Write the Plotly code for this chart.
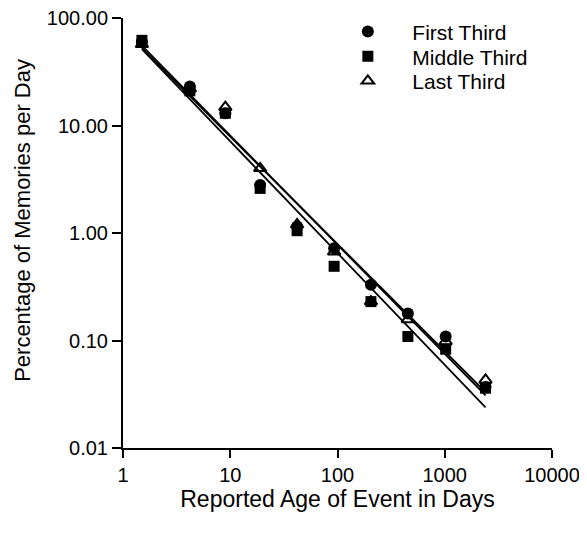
import numpy as np
import plotly.graph_objects as go

# Data (log-log)
age_days = [1.5, 4.2, 9.0, 19, 42, 93, 205, 453, 1020, 2400]
first_third = [60, 23, 13, 2.8, 1.15, 0.72, 0.33, 0.178, 0.109, 0.037]
middle_third = [62, 21, 13, 2.6, 1.05, 0.49, 0.23, 0.109, 0.083, 0.036]
last_third = [57, 22, 14.8, 4.0, 1.2, 0.67, 0.23, 0.157, 0.098, 0.043]

x_ticks = [1, 10, 100, 1000, 10000]
x_tick_text = ["1", "10", "100", "1000", "10000"]
y_ticks = [0.01, 0.1, 1, 10, 100]
y_tick_text = ["0.01", "0.10", "1.00", "10.00", "100.00"]

series = [
    ("First Third", first_third, dict(symbol="circle", size=12, color="black"), "legend"),
    ("Middle Third", middle_third, dict(symbol="square", size=11, color="black"), "legend2"),
    ("Last Third", last_third, dict(symbol="triangle-up-open", size=11, color="black",
                                     line=dict(width=2, color="black")), "legend3"),
]

fig = go.Figure()
FONT = "Liberation Sans, Arial, sans-serif"

lx = np.log10(age_days)
xfit = np.array([min(age_days), max(age_days)])
# Regression lines (power-law fits in log-log space)
for name, vals, m, lg in series:
    b, a = np.polyfit(lx, np.log10(vals), 1)
    yfit = 10 ** (a + b * np.log10(xfit))
    fig.add_trace(go.Scatter(x=xfit, y=yfit, mode="lines", showlegend=False,
                             line=dict(color="black", width=1.8), hoverinfo="skip"))

for name, vals, m, lg in series:
    fig.add_trace(go.Scatter(x=age_days, y=vals, mode="markers", name=name, marker=m, legend=lg))

leg_common = dict(x=0.467, xanchor="left", yanchor="middle", bgcolor="rgba(0,0,0,0)",
                  font=dict(size=21, family=FONT), itemwidth=79, borderwidth=0)
fig.update_layout(
    width=571, height=519,
    margin=dict(l=115, r=27, t=10, b=79, autoexpand=False),
    paper_bgcolor="white", plot_bgcolor="white",
    font=dict(family=FONT, size=20, color="black"),
    legend=dict(y=0.968, **leg_common),
    legend2=dict(y=0.910, **leg_common),
    legend3=dict(y=0.853, **leg_common),
    showlegend=True,
    annotations=[dict(text="Percentage of Memories per Day", textangle=-90,
                      xref="paper", yref="paper", x=-0.236, y=0.53,
                      xanchor="center", yanchor="middle", showarrow=False,
                      font=dict(size=22, family=FONT, color="black"))],
)
fig.update_xaxes(type="log", range=[0, 4], tickvals=x_ticks, ticktext=x_tick_text,
                 showgrid=False, zeroline=False, showline=True, linecolor="black", linewidth=2,
                 ticks="outside", ticklen=8, tickwidth=2, tickcolor="black",
                 tickfont=dict(size=20), ticklabeloverflow="allow",
                 title=dict(text="Reported Age of Event in Days", font=dict(size=23), standoff=0))
fig.update_yaxes(type="log", range=[-2, 2], tickvals=y_ticks, ticktext=y_tick_text,
                 showgrid=False, zeroline=False, showline=True, linecolor="black", linewidth=2,
                 ticks="outside", ticklen=9, tickwidth=2, tickcolor="black",
                 tickfont=dict(size=20), ticklabeloverflow="allow")

fig.write_html("out.html")
